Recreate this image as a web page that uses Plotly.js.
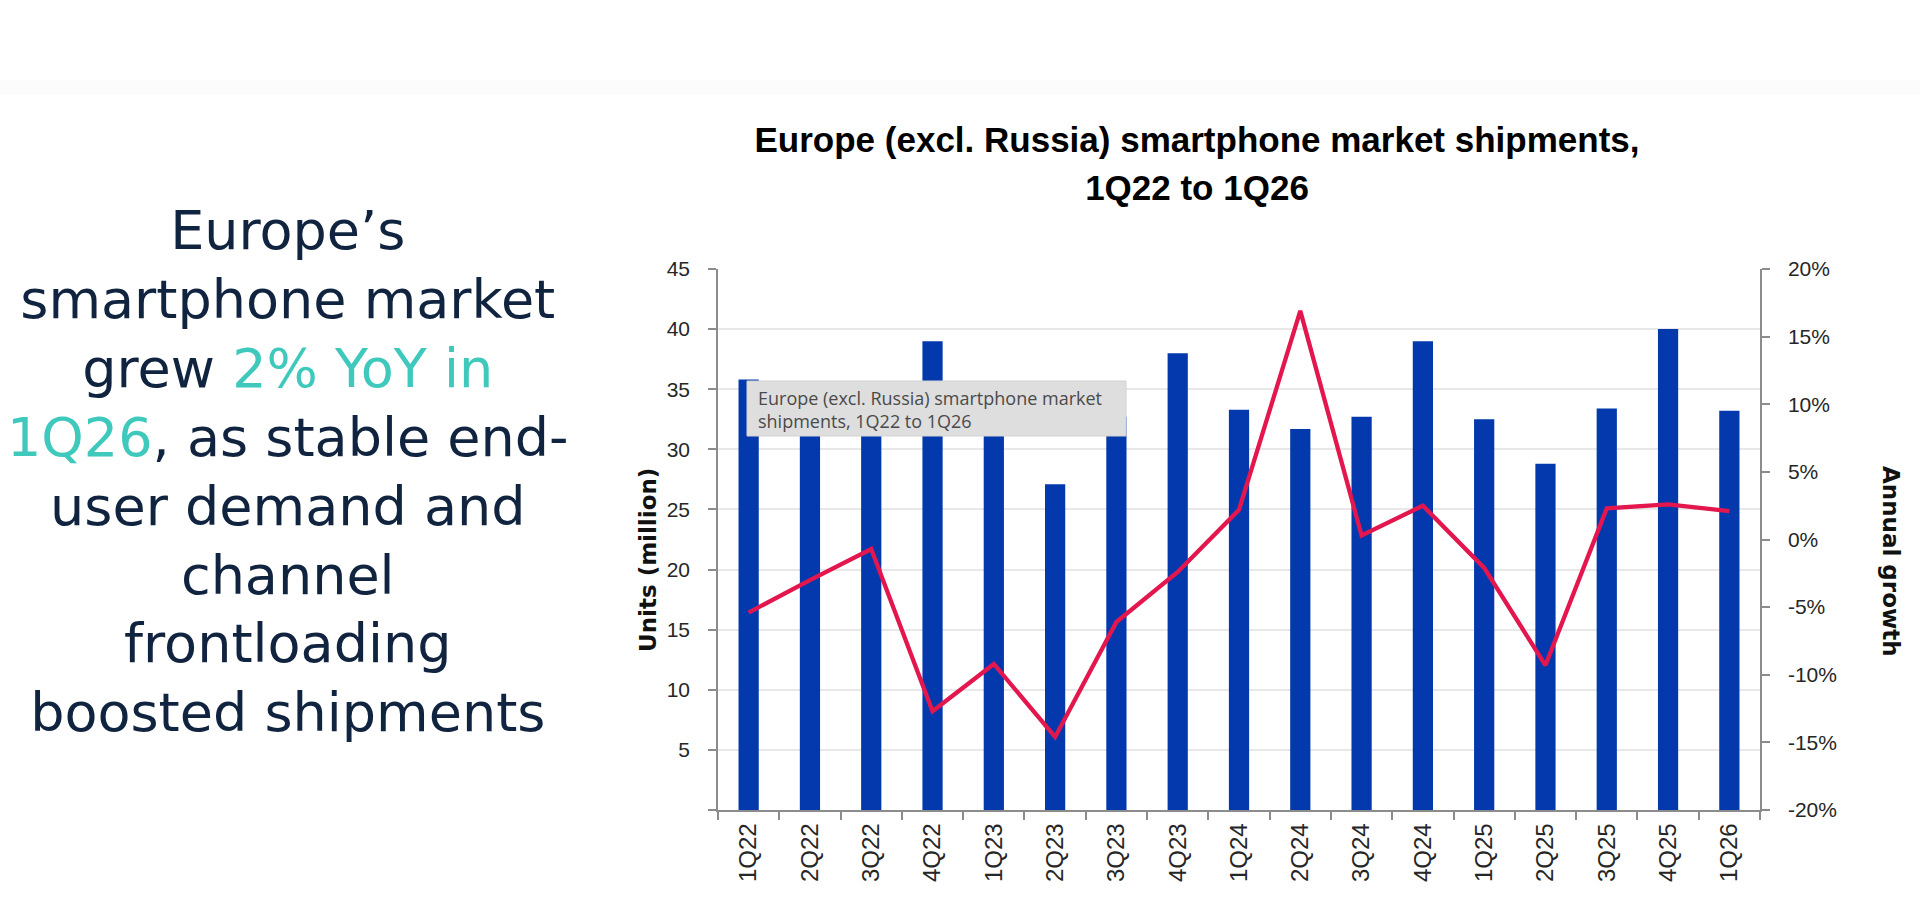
<!DOCTYPE html>
<html>
<head>
<meta charset="utf-8">
<script src="https://cdn.plot.ly/plotly-3.0.1.min.js"></script>
<style>
  html, body { margin: 0; padding: 0; background: #ffffff; }
  #chart { width: 1920px; height: 900px; }
</style>
</head>
<body>
<div id="chart"></div>
<script>
// ---- Data ----
const quarters = ['1Q22','2Q22','3Q22','4Q22','1Q23','2Q23','3Q23','4Q23','1Q24','2Q24','3Q24','4Q24','1Q25','2Q25','3Q25','4Q25','1Q26'];
const shipments = [35.8, 31.7, 34.8, 39.0, 32.5, 27.1, 32.7, 38.0, 33.3, 31.7, 32.7, 39.0, 32.5, 28.8, 33.4, 40.0, 33.2];
const growth = [-5.4, -3.0, -0.7, -12.7, -9.2, -14.6, -6.1, -2.4, 2.2, 16.9, 0.3, 2.5, -2.1, -9.3, 2.3, 2.6, 2.1];

const leftTickVals = [0, 5, 10, 15, 20, 25, 30, 35, 40, 45];
const leftTickText = ['', '5', '10', '15', '20', '25', '30', '35', '40', '45'];
const rightTickVals = [-20, -15, -10, -5, 0, 5, 10, 15, 20];
const rightTickText = ['-20%', '-15%', '-10%', '-5%', '0%', '5%', '10%', '15%', '20%'];

const titleLines = ['Europe (excl. Russia) smartphone market shipments,', '1Q22 to 1Q26'];
const leftAxisTitle = 'Units (million)';
const rightAxisTitle = 'Annual growth';
const tooltipText = 'Europe (excl. Russia) smartphone market<br>shipments, 1Q22 to 1Q26';

const NAVY = '#10233f';
const TEAL = '#3fc9bd';
// each line: list of [text, highlighted?]
const headlineLines = [
  [['Europe’s', false]],
  [['smartphone market', false]],
  [['grew ', false], ['2% YoY in', true]],
  [['1Q26', true], [', as stable end-', false]],
  [['user demand and', false]],
  [['channel', false]],
  [['frontloading', false]],
  [['boosted shipments', false]]
];
const HEAD_SIZE = 54;
const headlineText = headlineLines.map(parts => parts.map(([t, hi]) =>
  '<span style="font-size:' + HEAD_SIZE + 'px' + (hi ? ';color:' + TEAL : '') + '">' + t + '</span>'
).join('')).join('<br>');

const TITLE_SIZE = 35;
const titleText = titleLines.map(t => '<span style="font-size:' + TITLE_SIZE + 'px">' + t + '</span>').join('<br>');

// ---- Geometry helpers (plot area: x 718..1760, y 269..810) ----
const L = 718, R = 160, T = 269, B = 90, W = 1920, H = 900;
const PW = W - L - R, PH = H - T - B;
const px = x => (x - L) / PW;
const py = y => (H - B - y) / PH;

const annotations = [
  { // headline block (line pitch 69 px = 1.3 x 53 px)
    xref: 'paper', yref: 'paper', x: px(288), y: py(471),
    xanchor: 'center', yanchor: 'middle', align: 'center',
    text: headlineText, showarrow: false,
    font: { family: 'DejaVu Sans', size: 53, color: NAVY }
  },
  {
    xref: 'paper', yref: 'paper', x: px(648), y: py(560),
    xanchor: 'center', yanchor: 'middle',
    text: leftAxisTitle, textangle: -90, showarrow: false,
    font: { family: 'DejaVu Sans', size: 23, color: '#111', weight: 700 }
  },
  {
    xref: 'paper', yref: 'paper', x: px(1891), y: py(561),
    xanchor: 'center', yanchor: 'middle',
    text: rightAxisTitle, textangle: 90, showarrow: false,
    font: { family: 'DejaVu Sans', size: 23, color: '#111', weight: 700 }
  },
  {
    xref: 'paper', yref: 'paper', x: px(756), y: py(409),
    xanchor: 'left', yanchor: 'middle', align: 'left',
    text: tooltipText, showarrow: false,
    font: { family: 'Open Sans', size: 18, color: '#4a4a4a' }
  }
];

const shapes = [
  { type: 'rect', xref: 'paper', yref: 'paper', layer: 'below',
    x0: px(0), x1: px(1920), y0: py(95), y1: py(80),
    fillcolor: '#fcfcfc', line: { width: 0 } },
  { type: 'rect', xref: 'paper', yref: 'paper', layer: 'above',
    x0: px(747), x1: px(1126), y0: py(436), y1: py(381),
    fillcolor: '#dedede', line: { color: '#d2d2d2', width: 1 } }
];

const traces = [
  {
    type: 'bar', name: 'Shipments', x: quarters, y: shipments,
    marker: { color: '#0439ae' }, width: 0.33, yaxis: 'y', hoverinfo: 'x+y'
  },
  {
    type: 'scatter', mode: 'lines', name: 'Annual growth', x: quarters, y: growth,
    line: { color: '#e3174e', width: 4.3 }, yaxis: 'y2', hoverinfo: 'x+y'
  }
];

const tickFont = { family: 'Liberation Sans', size: 21, color: '#262626' };

const layout = {
  width: W, height: H,
  margin: { l: L, r: R, t: T, b: B, pad: 0 },
  paper_bgcolor: '#ffffff', plot_bgcolor: '#ffffff',
  showlegend: false,
  title: {
    text: titleText,
    font: { family: 'Liberation Sans', size: 37, color: '#000', weight: 700 },
    xref: 'paper', x: px(1197), xanchor: 'center',
    yref: 'container', y: 1 - 152 / H, yanchor: 'middle'
  },
  xaxis: {
    type: 'category', tickangle: -90,
    tickfont: { family: 'Liberation Sans', size: 24, color: '#262626' },
    ticks: 'outside', tickson: 'boundaries', ticklen: 8, tickcolor: '#8c8c8c', tickwidth: 1.5,
    showline: true, linecolor: '#8c8c8c', linewidth: 1.5,
    showgrid: false, zeroline: false, ticklabelstandoff: 2
  },
  yaxis: {
    range: [0, 45], tickvals: leftTickVals, ticktext: leftTickText,
    tickfont: tickFont, ticks: 'outside', ticklen: 8, tickcolor: '#8c8c8c', tickwidth: 1.5,
    showline: true, linecolor: '#8c8c8c', linewidth: 1.5,
    showgrid: true, gridcolor: '#e8e8e8', gridwidth: 1.5, zeroline: false,
    ticklabelstandoff: 14, automargin: false
  },
  yaxis2: {
    overlaying: 'y', side: 'right', range: [-20, 20],
    tickvals: rightTickVals, ticktext: rightTickText,
    tickfont: tickFont, ticks: 'outside', ticklen: 8, tickcolor: '#8c8c8c', tickwidth: 1.5,
    showline: true, linecolor: '#8c8c8c', linewidth: 1.5,
    showgrid: false, zeroline: false, ticklabelstandoff: 14, automargin: false
  },
  bargap: 0.67,
  annotations: annotations,
  shapes: shapes
};

Plotly.newPlot('chart', traces, layout, { displayModeBar: false });
</script>
</body>
</html>
